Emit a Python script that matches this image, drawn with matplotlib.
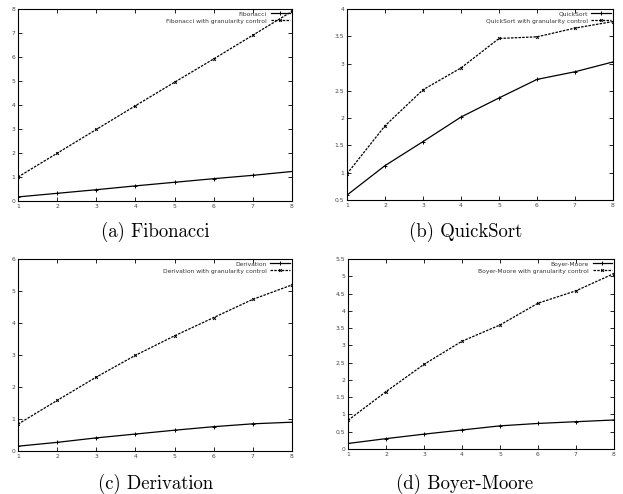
import matplotlib
matplotlib.use("Agg")
import matplotlib.pyplot as plt

threads = [1, 2, 3, 4, 5, 6, 7, 8]

fib = [0.17, 0.32, 0.47, 0.63, 0.78, 0.93, 1.07, 1.23]
fib_gc = [1.0, 1.99, 2.98, 3.97, 4.95, 5.92, 6.91, 7.9]

qsort = [0.59, 1.13, 1.57, 2.02, 2.37, 2.71, 2.85, 3.03]
qsort_gc = [0.98, 1.86, 2.52, 2.92, 3.46, 3.49, 3.65, 3.77]

deriv = [0.15, 0.27, 0.41, 0.53, 0.65, 0.76, 0.85, 0.9]
deriv_gc = [0.84, 1.58, 2.31, 2.99, 3.6, 4.17, 4.74, 5.19]

bm = [0.16, 0.3, 0.43, 0.55, 0.67, 0.74, 0.79, 0.84]
bm_gc = [0.83, 1.66, 2.45, 3.12, 3.59, 4.22, 4.58, 5.08]

panels = [
    ("Fibonacci", fib, fib_gc, (0, 8), [0, 1, 2, 3, 4, 5, 6, 7, 8], "(a) Fibonacci"),
    ("QuickSort", qsort, qsort_gc, (0.5, 4), [0.5, 1, 1.5, 2, 2.5, 3, 3.5, 4], "(b) QuickSort"),
    ("Derivation", deriv, deriv_gc, (0, 6), [0, 1, 2, 3, 4, 5, 6], "(c) Derivation"),
    ("Boyer-Moore", bm, bm_gc, (0, 5.5), [0, 0.5, 1, 1.5, 2, 2.5, 3, 3.5, 4, 4.5, 5, 5.5], "(d) Boyer-Moore"),
]

W, H = 623, 494
# left, right, top, bottom in pixels
boxes = [(18, 292, 9, 201), (347, 613, 9, 200), (18, 292, 259, 451), (348, 614, 259, 449)]
captions_xy = [(155, 232), (466, 232), (156, 484), (465, 484)]

fig = plt.figure(figsize=(W / 100, H / 100), dpi=100)

for (name, base, gc, ylim, yticks, cap), (l, r, t, b), (cx, cy) in zip(panels, boxes, captions_xy):
    ax = fig.add_axes([l / W, 1 - b / H, (r - l) / W, (b - t) / H])
    ax.plot(threads, base, color='black', lw=0.9, marker='+', ms=2.5, mew=0.7, label=name)
    ax.plot(threads, gc, color='black', lw=0.9, ls=(0, (2, 1)), marker='x', ms=2, mew=0.7,
            label=name + " with granularity control")
    ax.set_xlim(1, 8)
    ax.set_ylim(*ylim)
    ax.set_xticks(threads)
    ax.set_yticks(yticks)
    ax.set_yticklabels([("%g" % v) for v in yticks])
    ax.tick_params(direction='in', top=True, right=True, length=3, width=0.6,
                   labelsize=4.3, labelcolor='#444444', pad=2)
    for s in ax.spines.values():
        s.set_linewidth(0.8)
    ax.legend(loc='upper right', frameon=False, markerfirst=False, fontsize=4.3,
              handlelength=3.2, handletextpad=0.6, labelspacing=0.3,
              borderaxespad=0.2, borderpad=0.2, labelcolor='#333333')
    fig.text(cx / W, 1 - cy / H, cap, fontfamily='cmr10', fontsize=13.5,
             ha='center', va='center')

fig.savefig("out.png", dpi=100)
